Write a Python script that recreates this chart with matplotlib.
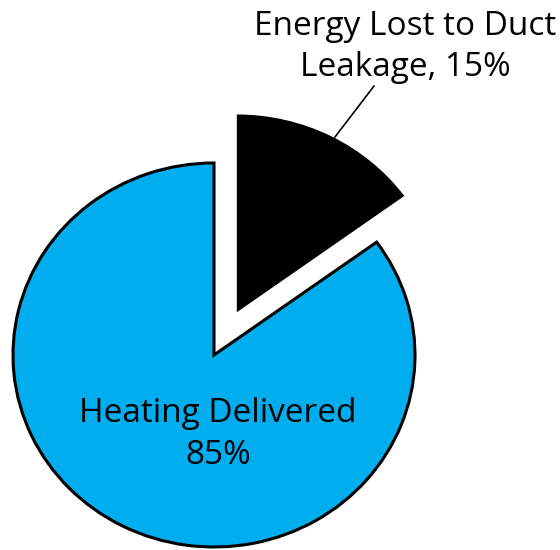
import matplotlib.pyplot as plt

# data
etiquetas = ['Energy Lost to Duct\nLeakage, 15%', 'Heating Delivered\n85%']
valores = [15, 85]
cores = ['#000000', '#00AEEF']
explodir = [0.25, 0]

plt.rcParams['font.family'] = ['Open Sans', 'DejaVu Sans']

# pizza levemente achatada: 201 px na horizontal, 192 px na vertical
cx, cy = 214, 355
rx, ry = 201.0, 192.0

fig = plt.figure(figsize=(5.6, 5.5), dpi=100)
ax = fig.add_axes([0, 0, 1, 1])

fatias, _ = ax.pie(valores, colors=cores, explode=explodir, startangle=90,
                   counterclock=False, radius=1, frame=True)
ax.set_aspect('auto')
ax.set_xlim(-cx / rx, (560 - cx) / rx)
ax.set_ylim(-(550 - cy) / ry, cy / ry)
ax.axis('off')

fatias[1].set_edgecolor('black')
fatias[1].set_linewidth(2.2)
fatias[1].set_joinstyle('miter')
fatias[0].set_linewidth(0)
fatias[0].set_radius(1.03)

def px(x, y):
    return (x - cx) / rx, (cy - y) / ry

ax.text(*px(218, 435), etiquetas[1], ha='center', va='center', fontsize=24,
        linespacing=1.36, color='black')
ax.text(*px(405, 47), etiquetas[0], ha='center', va='center', fontsize=24,
        linespacing=1.34, color='black')
x0, y0 = px(335, 137)
x1, y1 = px(374, 86)
ax.plot([x0, x1], [y0, y1], color='black', lw=1.2)

plt.savefig('out.png', dpi=100)
